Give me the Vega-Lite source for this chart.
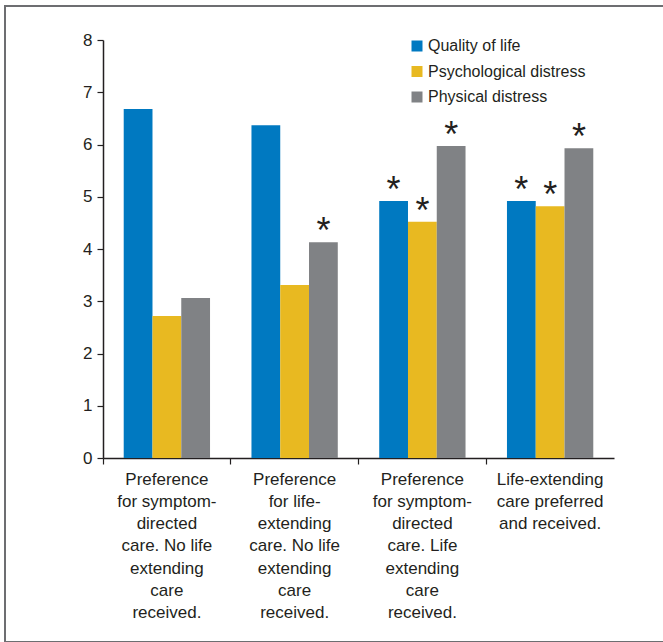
{
  "$schema": "https://vega.github.io/schema/vega-lite/v6.json",
  "autosize": {"type": "none"},
  "padding": {"left": 5, "top": 6, "right": 0, "bottom": 0},
  "width": 680,
  "height": 636,
  "background": "white",
  "config": {
    "view": {"stroke": "#6d6e71", "strokeWidth": 2},
    "font": "Liberation Sans"
  },
  "data": {
    "values": [
      {"group": "Preference|for symptom-|directed|care. No life|extending|care|received.", "measure": "Quality of life", "value": 6.68, "star": ""},
      {"group": "Preference|for symptom-|directed|care. No life|extending|care|received.", "measure": "Psychological distress", "value": 2.72, "star": ""},
      {"group": "Preference|for symptom-|directed|care. No life|extending|care|received.", "measure": "Physical distress", "value": 3.06, "star": ""},
      {"group": "Preference|for life-|extending|care. No life|extending|care|received.", "measure": "Quality of life", "value": 6.37, "star": ""},
      {"group": "Preference|for life-|extending|care. No life|extending|care|received.", "measure": "Psychological distress", "value": 3.31, "star": ""},
      {"group": "Preference|for life-|extending|care. No life|extending|care|received.", "measure": "Physical distress", "value": 4.13, "star": "*"},
      {"group": "Preference|for symptom-|directed|care. Life|extending|care|received.", "measure": "Quality of life", "value": 4.92, "star": "*"},
      {"group": "Preference|for symptom-|directed|care. Life|extending|care|received.", "measure": "Psychological distress", "value": 4.52, "star": "*"},
      {"group": "Preference|for symptom-|directed|care. Life|extending|care|received.", "measure": "Physical distress", "value": 5.97, "star": "*"},
      {"group": "Life-extending|care preferred|and received.", "measure": "Quality of life", "value": 4.92, "star": "*"},
      {"group": "Life-extending|care preferred|and received.", "measure": "Psychological distress", "value": 4.82, "star": "*"},
      {"group": "Life-extending|care preferred|and received.", "measure": "Physical distress", "value": 5.93, "star": "*"}
    ]
  },
  "encoding": {
    "x": {
      "field": "group",
      "type": "nominal",
      "sort": null,
      "scale": {"range": [98, 609], "paddingInner": 0, "paddingOuter": 0},
      "axis": {
        "title": null,
        "orient": "bottom",
        "offset": -184,
        "labelAngle": 0,
        "labelExpr": "split(datum.value, '|')",
        "labelFont": "Liberation Sans",
        "labelFontSize": 17,
        "labelLineHeight": 22.3,
        "labelColor": "#231f20",
        "labelPadding": 7,
        "labelBaseline": "top",
        "bandPosition": 0,
        "tickSize": 6,
        "tickColor": "#231f20",
        "tickWidth": 1.2,
        "domainColor": "#231f20",
        "domainWidth": 1.5,
        "labelLimit": 0
      }
    },
    "xOffset": {
      "field": "measure",
      "type": "nominal",
      "sort": ["Quality of life", "Psychological distress", "Physical distress"],
      "scale": {"paddingOuter": 0.72, "paddingInner": 0}
    },
    "y": {
      "field": "value",
      "type": "quantitative",
      "scale": {"domain": [0, 8], "range": [452, 34], "nice": false},
      "axis": {
        "title": null,
        "offset": -98,
        "values": [0, 1, 2, 3, 4, 5, 6, 7, 8],
        "grid": false,
        "labelFontSize": 17,
        "labelColor": "#231f20",
        "labelPadding": 5,
        "tickSize": 6,
        "tickColor": "#231f20",
        "tickWidth": 1.2,
        "domainColor": "#231f20",
        "domainWidth": 1.5
      }
    }
  },
  "layer": [
    {
      "mark": {"type": "bar"},
      "encoding": {
        "color": {
          "field": "measure",
          "type": "nominal",
          "sort": ["Quality of life", "Psychological distress", "Physical distress"],
          "scale": {
            "domain": ["Quality of life", "Psychological distress", "Physical distress"],
            "range": ["#0079c1", "#e8b921", "#808285"]
          },
          "legend": {
            "title": null,
            "orient": "none",
            "legendX": 404,
            "legendY": 32,
            "symbolType": "square",
            "symbolSize": 121,
            "symbolStrokeWidth": 0,
            "symbolOpacity": 1,
            "labelFontSize": 16,
            "labelColor": "#231f20",
            "labelOffset": 3,
            "rowPadding": 9.5,
            "labelLimit": 0
          }
        }
      }
    },
    {
      "transform": [{"filter": "datum.star == '*'"}],
      "mark": {"type": "text", "fontSize": 36, "baseline": "alphabetic", "dy": 1, "color": "#231f20"},
      "encoding": {"text": {"field": "star"}}
    }
  ]
}
